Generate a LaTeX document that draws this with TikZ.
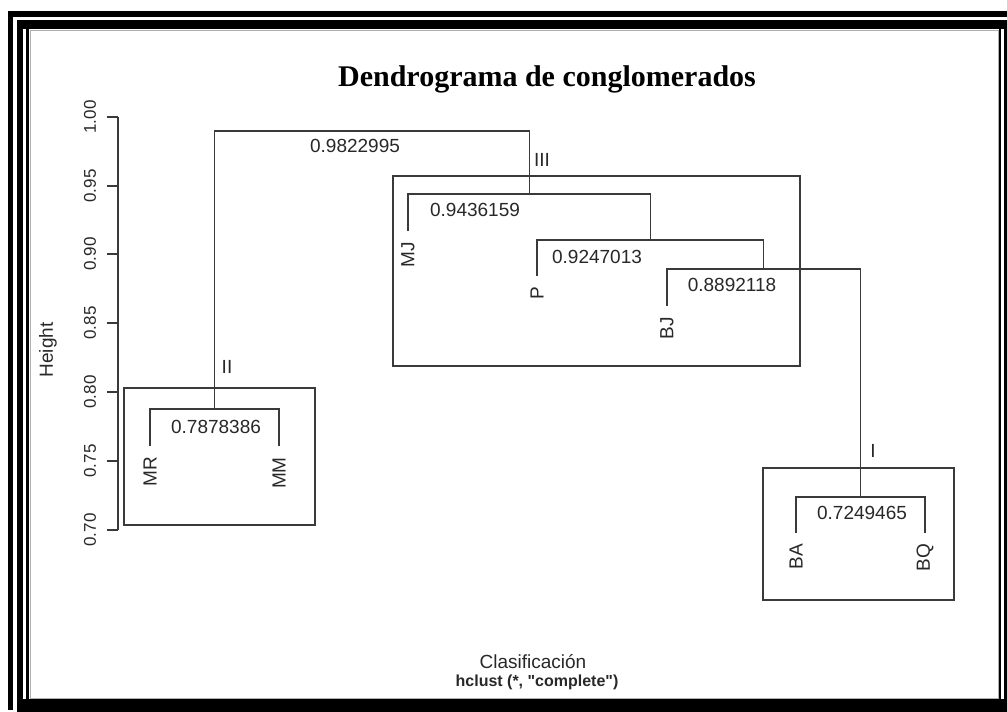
\documentclass[tikz,border=0pt]{standalone}
\usepackage{fontspec}
\setmainfont{Liberation Sans}
\newfontfamily\titlefont{Liberation Serif}
\newfontfamily\subfont{Liberation Sans}[Ligatures=TeXOff]
\usepackage{xcolor}
\usepackage{tikz}
\usetikzlibrary{positioning, calc}
\definecolor{linegray}{RGB}{58, 58, 58}
\definecolor{textgray}{RGB}{40, 40, 40}
\definecolor{framegray}{RGB}{175, 175, 175}

\begin{document}
\begin{tikzpicture}[x=1pt, y=-1pt,
    branch/.style={draw=linegray, line width=1.3pt},
    clusterbox/.style={draw=linegray, line width=1.3pt},
    leaflab/.style={rotate=90, anchor=east, inner sep=0pt, text=textgray,
                    font=\fontsize{19}{19}\selectfont},
    vallab/.style={inner sep=0pt, text=textgray, font=\fontsize{19}{19}\selectfont},
    ticklab/.style={rotate=90, inner sep=0pt, text=textgray,
                    font=\fontsize{17}{17}\selectfont}]
    \useasboundingbox (0,0) rectangle (1007,712);

    % page frame
    \fill (8,11) rectangle (1007,17);
    \fill (8,11) rectangle (13,710);
    \fill (17,20) rectangle (1007,29);
    \fill (17,20) rectangle (23,704);
    \fill (26,27) rectangle (29,699);
    \fill (17,699) rectangle (1007,712);
    \fill (999,27) rectangle (1001,699);
    \fill (1004,20) rectangle (1007,712);
    \draw[framegray, line width=0.8pt] (30,30) rectangle (998,698);

    % title and axis texts
    \node[anchor=base, font={\titlefont\bfseries\fontsize{30}{30}\selectfont}] (title)
        at (547,86) {Dendrograma de conglomerados};
    \node[ticklab, font=\fontsize{19}{19}\selectfont] (ylab) at (48,350) {Height};
    \node[vallab, anchor=base] (xlab) at (533,668) {Clasificación};
    \node[vallab, anchor=base, font={\subfont\bfseries\fontsize{16}{16}\selectfont}] (sublab)
        at (537,686) {hclust (*, "complete")};

    % y axis
    \draw[branch] (118,117) -- (118,530);
    \foreach \y/\lab in {530/0.70, 461/0.75, 392/0.80, 323/0.85, 254/0.90, 186/0.95, 117/1.00} {
        \draw[branch] (107,\y) -- (118,\y);
        \node[ticklab] (tick\lab) at (90,\y) {\lab};
    }

    % leaves and merges
    \coordinate (MR) at (150,446);
    \coordinate (MM) at (279,446);
    \coordinate (MJ) at (408,231);
    \coordinate (P)  at (537,276);
    \coordinate (BJ) at (667,306);
    \coordinate (BA) at (796,533);
    \coordinate (BQ) at (925,533);
    \coordinate (mBABQ) at (860.5,497);
    \coordinate (mBJ)   at (763.75,269);
    \coordinate (mP)    at (650.4,240);
    \coordinate (mMJ)   at (529.2,194);
    \coordinate (mMRMM) at (214.5,409);
    \coordinate (root)  at (371.9,131);

    \draw[branch] (BA) |- (mBABQ) -| (BQ);
    \draw[branch] (BJ) |- (mBJ) -| (mBABQ);
    \draw[branch] (P) |- (mP) -| (mBJ);
    \draw[branch] (MJ) |- (mMJ) -| (mP);
    \draw[branch] (MR) |- (mMRMM) -| (MM);
    \draw[branch] (mMRMM) |- (root) -| (mMJ);

    \foreach \leaf in {MR, MM, MJ, P, BJ, BA, BQ}
        \node[leaflab] (lab\leaf) at ([yshift=-11pt]\leaf) {\leaf};

    % merge heights
    \node[vallab] (hMRMM) at (216,427) {0.7878386};
    \node[vallab] (hBABQ) at (862,513) {0.7249465};
    \node[vallab] (hBJ)   at (732,285) {0.8892118};
    \node[vallab] (hP)    at (597,257) {0.9247013};
    \node[vallab] (hMJ)   at (475,210) {0.9436159};
    \node[vallab] (hroot) at (355,146) {0.9822995};

    % clusters
    \draw[clusterbox] (124,388) rectangle (315,525);
    \draw[clusterbox] (393,176) rectangle (800,366);
    \draw[clusterbox] (763,468) rectangle (954,600);
    \node[vallab] (cII)  at (227,367) {II};
    \node[vallab] (cIII) at (542,160) {III};
    \node[vallab] (cI)   at (873,451) {I};
\end{tikzpicture}
\end{document}
